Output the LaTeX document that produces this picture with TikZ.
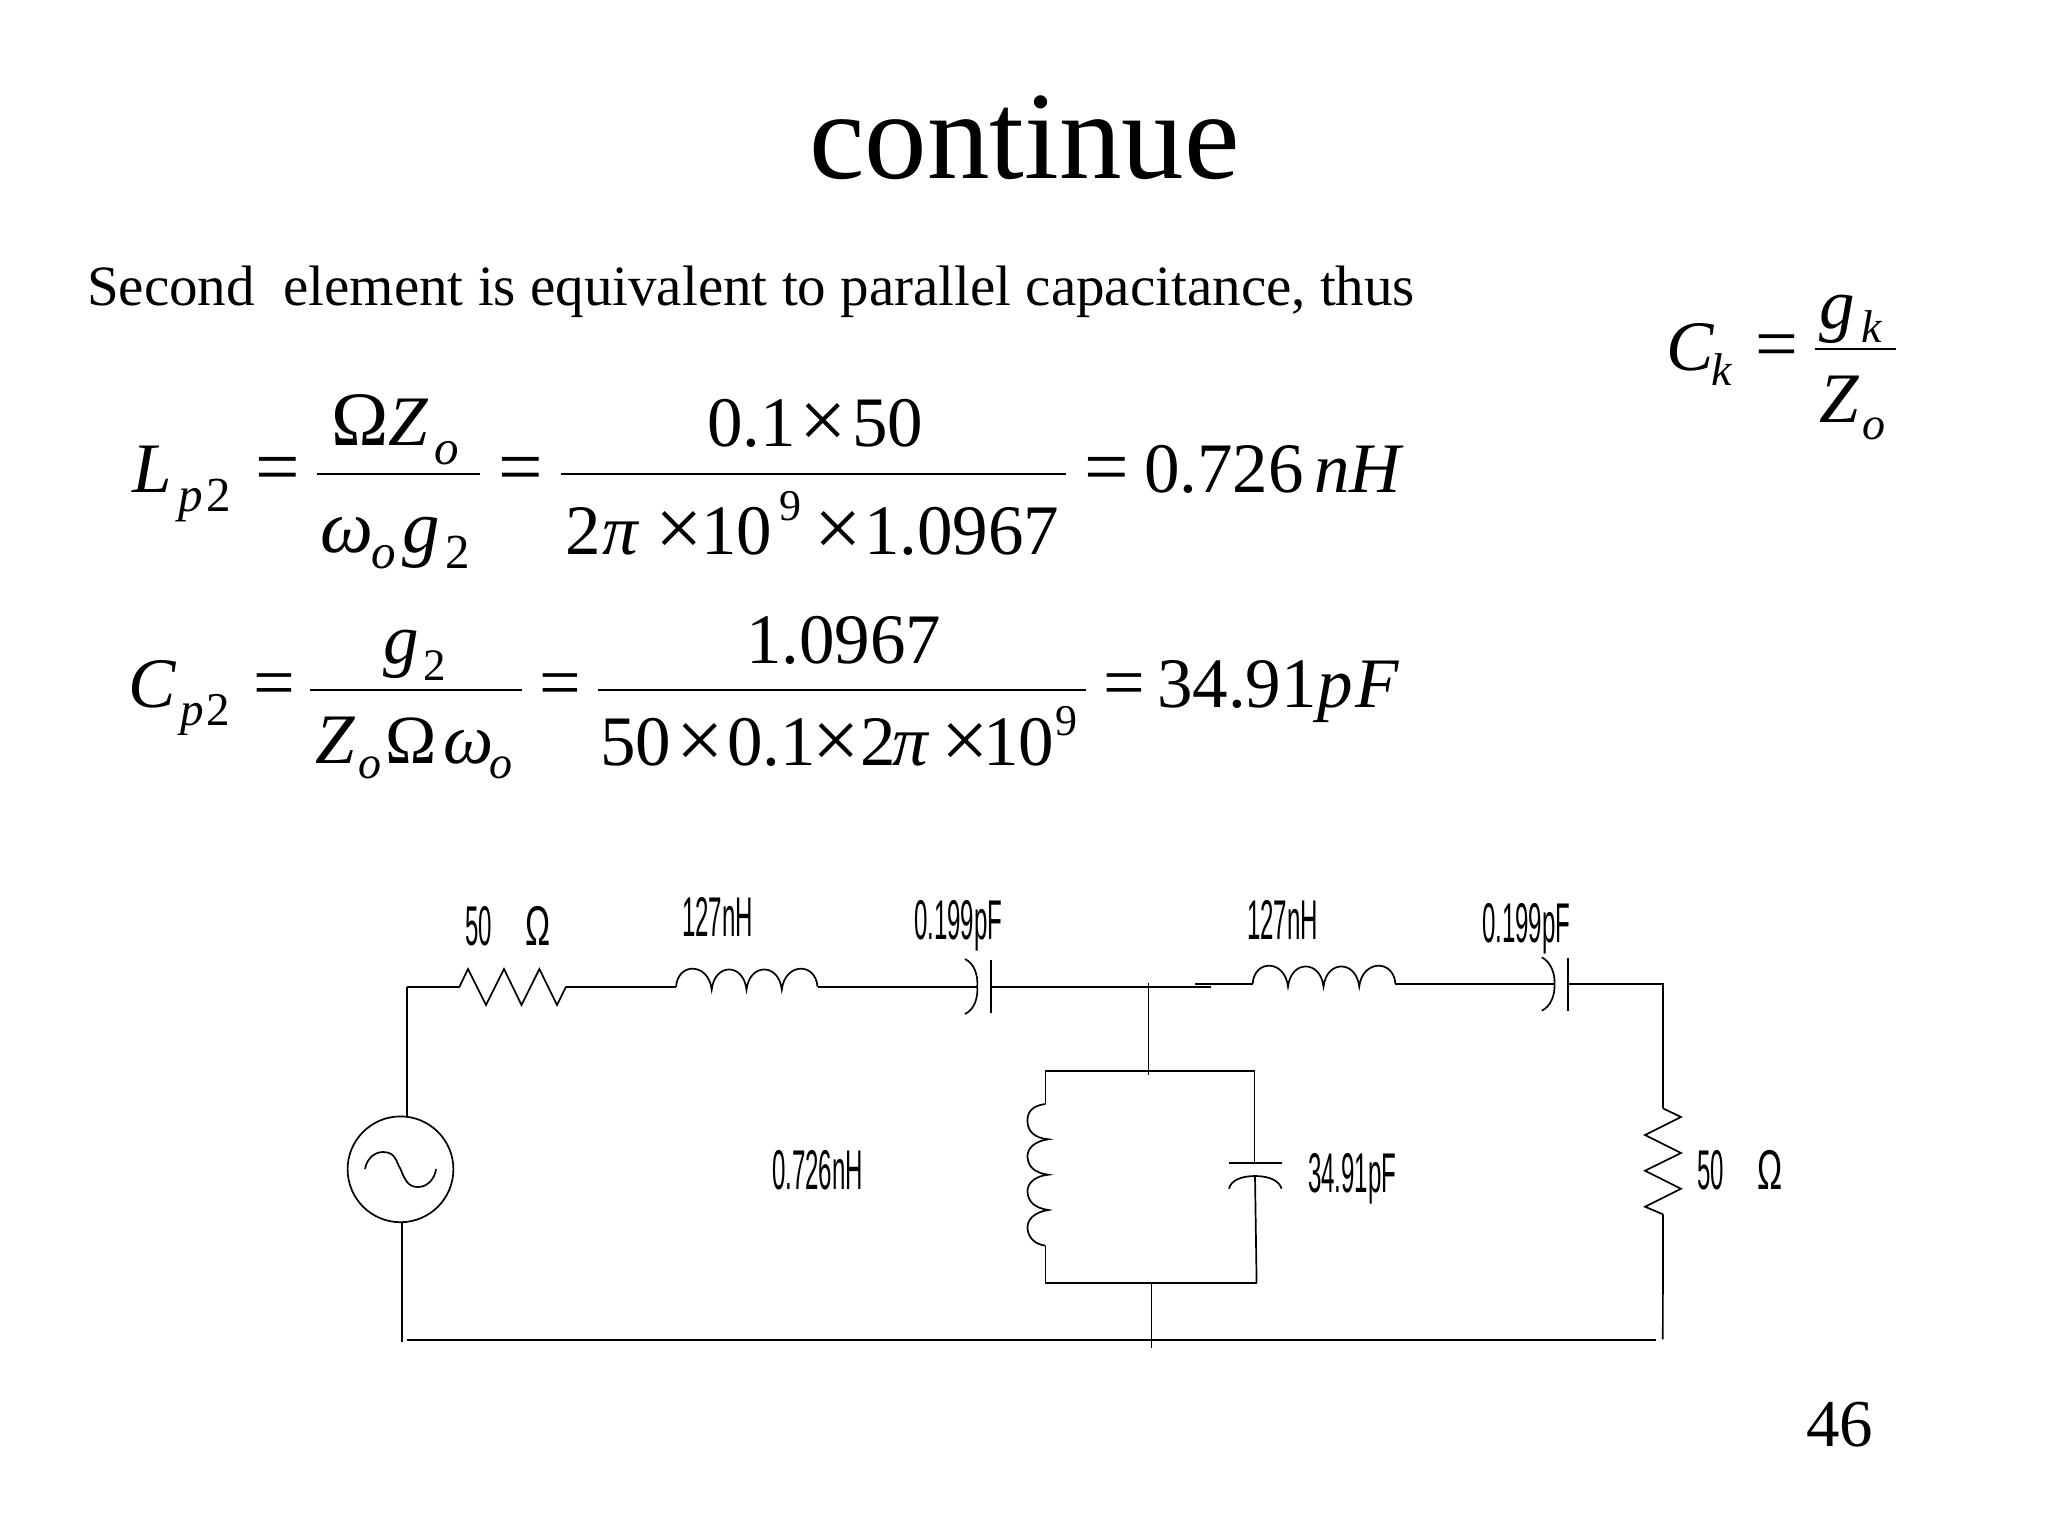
\documentclass[tikz,border=0pt]{standalone}
\usepackage{fontspec}
\setmainfont{Liberation Serif}
\newfontfamily\narrowf[FakeStretch=0.43]{Liberation Sans}
\newfontfamily\omegaf[FakeStretch=0.6]{Liberation Sans}
\newcommand{\fsz}[1]{\fontsize{\fpeval{#1/2}}{\fpeval{#1/2}}\selectfont}
\newcommand{\piece}[5]{\node[txt] (#1) at (#2,#3) {\fsz{#4}#5};}
\newcommand{\lbl}[4]{\node[txt] (#1) at (#2,#3) {\narrowf\fsz{56}#4};}
\tikzset{
  txt/.style={anchor=base west,inner sep=0pt,outer sep=0pt,text=black},
  wire/.style={draw=black,line width=0.85pt,line join=miter},
  fbar/.style={draw=black,line width=1.4pt},
}
\begin{document}
\begin{tikzpicture}[x=0.5pt,y=-0.5pt]
\useasboundingbox[fill=white] (0,0) rectangle (2048,1536);
% texts
\node[txt] (title) at (809,178) {\fsz{125}continue};
\node[txt] (intro) at (87,305) {\fsz{57}Second\ \ element is equivalent to parallel capacitance, thus};
\node[txt] (pageno) at (1806,1446) {\fsz{67}46};
% Ck
\piece{ckC}{1666}{370}{71}{\itshape C}
\piece{ckk}{1711}{385}{46}{\itshape k}
\piece{cke}{1755.6}{369}{76}{=}
\coordinate (ckbl) at (1815,349); \coordinate (ckbr) at (1896,349);
\draw[fbar] (ckbl) -- (ckbr);
\piece{ckg}{1819}{328}{71}{\itshape g}
\piece{ckgk}{1861}{342}{46}{\itshape k}
\piece{ckZ}{1819}{422}{71}{\itshape Z}
\piece{ckZo}{1862}{439}{46}{\itshape o}
% Line 1
\piece{lL}{132}{492.5}{71}{\itshape L}
\piece{lp}{178}{511.7}{49}{\itshape p}
\piece{lpt}{206.5}{511.7}{49}{2}
\piece{le1}{255}{493}{79}{=}
\coordinate (l1a) at (316.7,474); \coordinate (l1b) at (480,474);
\draw[fbar] (l1a) -- (l1b);
\piece{lOm}{331}{445}{77}{Ω}
\piece{lZ}{388}{445}{71}{\itshape Z}
\piece{lZo}{434}{464}{49}{\itshape o}
\piece{lw}{320}{552}{75}{\itshape ω}
\piece{lwo}{371}{568.3}{49}{\itshape o}
\piece{lg}{402}{552}{75}{\itshape g}
\piece{lgt}{445}{568.3}{49}{2}
\piece{le2}{498.3}{493}{79}{=}
\coordinate (l2a) at (561,474); \coordinate (l2b) at (1066,474);
\draw[fbar] (l2a) -- (l2b);
\piece{ln1}{707}{446}{71}{0.1}
\piece{lnx}{799}{448}{84}{×}
\piece{ln2}{852}{446}{71}{50}
\piece{ld2}{565}{554}{71}{2}
\piece{ldp}{602}{554}{71}{\itshape π}
\piece{ldx}{655}{556.7}{84}{×}
\piece{ld10}{701}{554}{71}{10}
\piece{ld9}{779}{520}{44}{9}
\piece{ldx2}{814.5}{556.7}{84}{×}
\piece{ldv}{864}{554}{71}{1.0967}
\piece{le3}{1084.6}{493}{79}{=}
\piece{lr}{1144}{492.8}{71}{0.726}
\piece{lrn}{1314}{492.8}{71}{\itshape n}
\piece{lrH}{1349}{492.8}{71}{\itshape H}
% Line 2
\piece{cC}{128}{707}{71}{\itshape C}
\piece{cp}{180}{725}{47}{\itshape p}
\piece{cpt}{206.5}{725}{47}{2}
\piece{ce1}{253}{707}{74}{=}
\coordinate (c1a) at (310,690); \coordinate (c1z) at (522,690);
\draw[fbar] (c1a) -- (c1z);
\piece{cg}{383}{663}{71}{\itshape g}
\piece{cgt}{423}{680}{45}{2}
\piece{cZ}{315}{763}{71}{\itshape Z}
\piece{cZo}{358}{778}{46}{\itshape o}
\piece{cOm}{385}{763}{69}{Ω}
\piece{cw}{443}{763}{71}{\itshape ω}
\piece{cwo}{489}{778}{46}{\itshape o}
\piece{ce2}{539}{707}{74}{=}
\coordinate (c2a) at (598,690); \coordinate (c2z) at (1086,690);
\draw[fbar] (c2a) -- (c2z);
\piece{cn}{746}{663}{71}{1.0967}
\piece{cd50}{600}{765}{71}{50}
\piece{cdx1}{676}{768}{84}{×}
\piece{cd01}{727}{765}{71}{0.1}
\piece{cdx2}{812}{768}{84}{×}
\piece{cd2}{860}{765}{71}{2}
\piece{cdp}{892}{765}{71}{\itshape π}
\piece{cdx3}{941}{768}{84}{×}
\piece{cd10}{983}{765}{71}{10}
\piece{cd9}{1055}{735}{44}{9}
\piece{ce3}{1103.5}{707}{74}{=}
\piece{cr}{1157}{707}{71}{34.91}
\piece{crp}{1317}{707}{71}{\itshape p}
\piece{crF}{1355}{707}{71}{\itshape F}
% Circuit labels
\lbl{r1l}{465}{945}{50\hspace{17pt}{\omegaf Ω}}
\lbl{l1l}{682}{936}{127nH}
\lbl{c1l}{914}{939}{0.199pF}
\lbl{lpl}{772}{1189}{0.726nH}
\lbl{l2l}{1247}{939}{127nH}
\lbl{c2l}{1482}{942}{0.199pF}
\lbl{cpl}{1308}{1192}{34.91pF}
\lbl{r2l}{1697}{1189}{50\hspace{17pt}{\omegaf Ω}}
% Circuit nodes
\node[draw=black,line width=0.85pt,circle,inner sep=0pt,minimum size=52.9pt] (src) at (400.5,1169.3) {};
\coordinate (tl) at (407,986.7);
\coordinate (r1a) at (459.5,986.7);
\coordinate (r1b) at (566,986.7);
\coordinate (l1s) at (676,986.7);
\coordinate (l1e) at (817.5,986.7);
\coordinate (cap1b) at (977.3,986.7);
\coordinate (c1p) at (991,986.7);
\coordinate (jr) at (1210.7,986.7);
\coordinate (jtop) at (1148.5,982.7);
\coordinate (jbot) at (1148.5,1075);
\coordinate (l2w) at (1195.4,983.7);
\coordinate (l2s) at (1252.6,983.7);
\coordinate (l2e) at (1395.4,983.7);
\coordinate (cap2b) at (1554.6,983.7);
\coordinate (c2p) at (1567.9,983.7);
\coordinate (tr) at (1662.8,983.7);
\coordinate (r2a) at (1662.8,1108.3);
\coordinate (r2b) at (1663,1214.3);
\coordinate (br) at (1662.8,1339.3);
\coordinate (bl) at (407,1340);
\coordinate (brw) at (1655.6,1340);
\coordinate (srcb) at (402,1342);
\coordinate (tkTL) at (1045.4,1070.7);
\coordinate (tkTR) at (1254.6,1070.7);
\coordinate (tkBL) at (1045.4,1282.7);
\coordinate (tkBR) at (1256.6,1282.7);
\coordinate (lpa) at (1045.4,1104);
\coordinate (lpb) at (1045.4,1245.7);
\coordinate (cpa) at (1254.6,1162.7);
\coordinate (cpb) at (1255,1176);
\coordinate (stemt) at (1151.5,1282.7);
\coordinate (stemb) at (1151.5,1348.3);
% wires
\draw[wire] (tl) -- (tl |- src.north);
\draw[wire] (srcb |- src.south) -- (srcb);
\draw[wire] (tl) -- (r1a);
\draw[wire] (r1a) -- (468,969) -- (486,1005) -- (504,969) -- (521.5,1005) -- (539.4,969) -- (557,1005) -- (r1b);
\draw[wire] (r1b) -- (l1s);
\draw[wire] (l1s) .. controls +(2,-25) and +(-3,-27) .. ++(35.7,3)
  .. controls +(3,-27) and +(-3,-27) .. ++(34.8,0)
  .. controls +(3,-27) and +(-3,-27) .. ++(35.3,0)
  .. controls +(3,-27) and +(-2,-25) .. (l1e);
\draw[wire] (l1e) -- (cap1b);
\draw[wire] (965,959) .. controls (975,964) and (978,976) .. (cap1b) .. controls (978,997) and (975,1009) .. (965,1014);
\draw[wire] (991,960) -- (991,1013);
\draw[wire] (c1p) -- (jr);
\draw[wire] (jtop) -- (jbot);
\draw[wire] (l2w) -- (l2s);
\draw[wire] (l2s) .. controls +(2,-25) and +(-3,-27) .. ++(35.4,3)
  .. controls +(3,-27) and +(-3,-27) .. ++(35.5,0)
  .. controls +(3,-27) and +(-3,-27) .. ++(35.7,0)
  .. controls +(3,-27) and +(-2,-25) .. (l2e);
\draw[wire] (l2e) -- (cap2b);
\draw[wire] (1541.8,957.3) .. controls (1551,962) and (1555,974) .. (cap2b) .. controls (1555,995) and (1551,1006) .. (1541.8,1010.7);
\draw[wire] (1567.9,957.7) -- (1567.9,1010.7);
\draw[wire] (c2p) -- (tr) -- (r2a);
\draw[wire] (r2a) -- (1681,1117) -- (1645,1135) -- (1681,1153) -- (1645,1170.7) -- (1681,1188.7) -- (1645,1206.7) -- (r2b);
\draw[wire] (r2b) -- (br);
\draw[wire] (bl) -- (brw);
\draw[wire] (tkTL) -- (tkTR);
\draw[wire] (tkBL) -- (tkBR);
\draw[wire] (tkTL) -- (lpa);
\draw[wire] (lpb) -- (tkBL);
\draw[wire] (lpa) .. controls (1030,1106) and (1027,1114) .. (1027.5,1122) .. controls (1028,1131) and (1034,1138) .. (1048.5,1139.3)
  .. controls (1034,1141) and (1027,1149) .. (1027.5,1157) .. controls (1028,1166) and (1034,1173) .. (1048.5,1174.7)
  .. controls (1034,1176) and (1027,1184) .. (1027.5,1192) .. controls (1028,1201) and (1034,1208) .. (1048.5,1210)
  .. controls (1034,1212) and (1027,1220) .. (1027.5,1228) .. controls (1028,1237) and (1034,1244) .. (lpb);
\draw[wire] (tkTR) -- (cpa);
\draw[wire] (1229,1162.7) -- (1281.6,1162.7);
\draw[wire] (1229,1188.7) .. controls (1231,1180) and (1242,1176) .. (cpb) .. controls (1268,1176) and (1279,1180) .. (1281.6,1188.7);
\draw[wire] (cpb) -- (tkBR);
\draw[wire] (stemt) -- (stemb);
\draw[wire] (365,1169) .. controls (367,1158) and (375,1152) .. (383,1152) .. controls (396,1152) and (396,1162) .. (400.5,1169) .. controls (405,1180) and (408,1187) .. (418,1187) .. controls (428,1187) and (435,1178) .. (436,1169);
\end{tikzpicture}
\end{document}
